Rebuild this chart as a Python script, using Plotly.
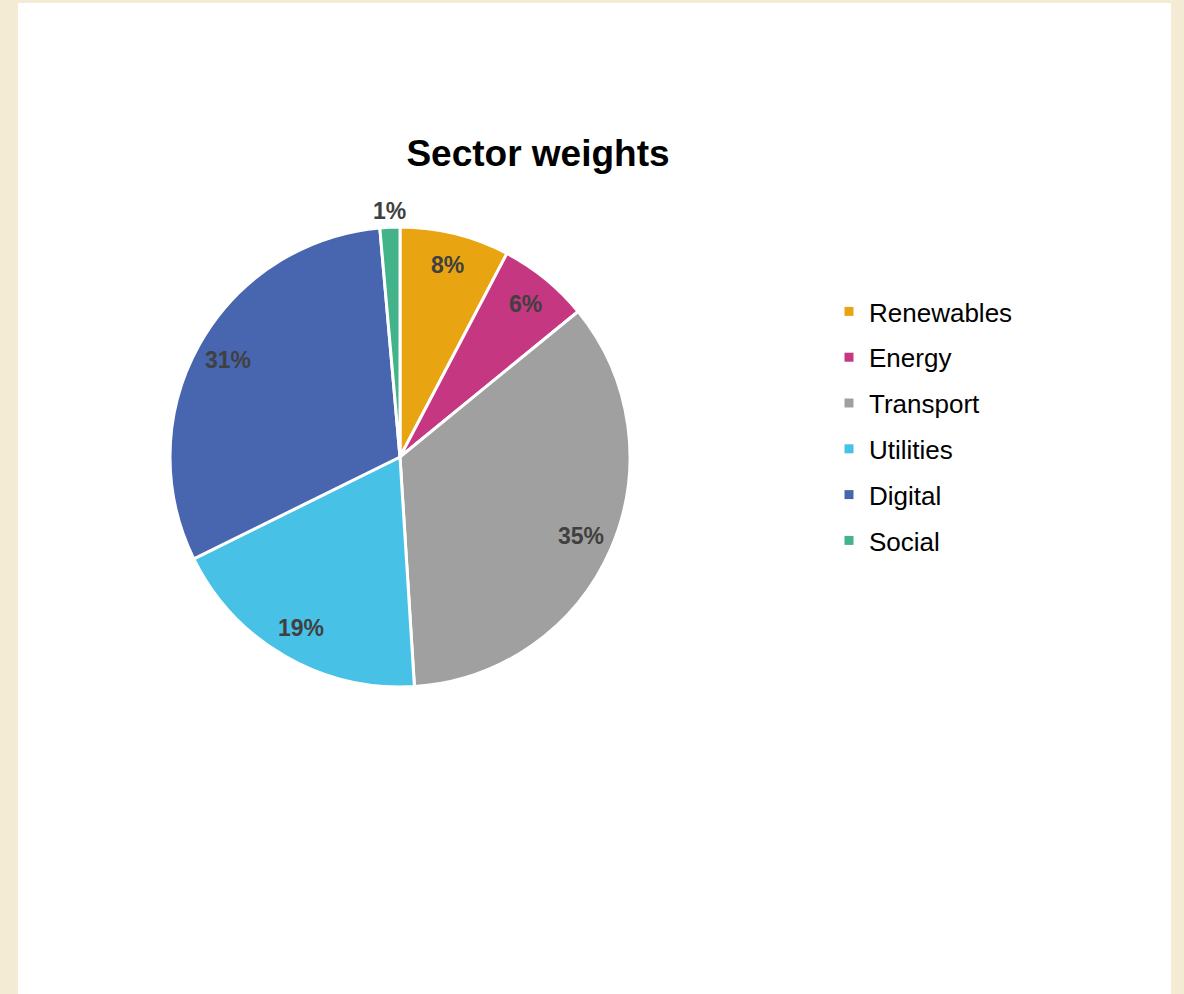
import math
import plotly.graph_objects as go

# ---- data ----
sectors = ["Renewables", "Energy", "Transport", "Utilities", "Digital", "Social"]
weights = [7.7, 6.4, 34.9, 18.7, 30.9, 1.4]
colors = ["#E9A412", "#C63781", "#A0A0A0", "#48C1E6", "#4866AF", "#43B38A"]
chart_title = "Sector weights"

# ---- layout constants (pixels) ----
W, H = 1184, 994
cx, cy, r = 400, 457, 230
FONT = "Liberation Sans, Arial, sans-serif"

fig = go.Figure()

fig.add_trace(go.Pie(
    labels=sectors,
    values=weights,
    marker=dict(colors=colors, line=dict(color="white", width=3)),
    sort=False,
    direction="clockwise",
    rotation=0,
    textinfo="none",
    hoverinfo="label+percent",
    showlegend=False,
    domain=dict(x=[(cx - r) / W, (cx + r) / W], y=[1 - (cy + r) / H, 1 - (cy - r) / H]),
))

# legend via dummy square markers
for i, (s, c) in enumerate(zip(sectors, colors)):
    fig.add_trace(go.Scatter(
        x=[None], y=[None], mode="markers", name=s,
        marker=dict(symbol="square", size=9, color=c),
        legendgroup=f"g{i}", showlegend=True,
    ))

# percentage labels computed from data
total = sum(weights)
annotations = []
cum = 0.0
for v in weights:
    mid = (cum + v / 2) / total * 2 * math.pi
    cum += v
    f = 0.86 if v / total >= 0.03 else 1.07
    x = cx + r * f * math.sin(mid)
    y = cy - r * f * math.cos(mid)
    annotations.append(dict(
        x=x / W, y=1 - y / H, xref="paper", yref="paper",
        text=f"{round(v / total * 100):.0f}%", showarrow=False,
        font=dict(family=FONT, size=23, color="#404040", weight="bold"),
        xanchor="center", yanchor="middle",
    ))

fig.update_layout(
    width=W, height=H,
    margin=dict(l=0, r=0, t=0, b=0),
    paper_bgcolor="#F3EBD4",
    plot_bgcolor="rgba(0,0,0,0)",
    xaxis=dict(visible=False),
    yaxis=dict(visible=False),
    title=dict(
        text=f"<b>{chart_title}</b>", x=538 / W, y=1 - 153 / H,
        xanchor="center", yanchor="middle",
        font=dict(family=FONT, size=37, color="black"),
    ),
    legend=dict(
        x=829 / W, y=1 - 288 / H, xanchor="left", yanchor="top",
        font=dict(family=FONT, size=26, color="black"),
        tracegroupgap=9, bgcolor="rgba(0,0,0,0)",
    ),
    shapes=[dict(
        type="rect", xref="paper", yref="paper",
        x0=18 / W, x1=1171 / W, y0=0, y1=1 - 3 / H,
        fillcolor="white", line=dict(width=0), layer="below",
    )],
    annotations=annotations,
)

fig.write_html(
    "out.html",
    config={"displayModeBar": False},
    post_script="document.body.style.margin='0';",
)
